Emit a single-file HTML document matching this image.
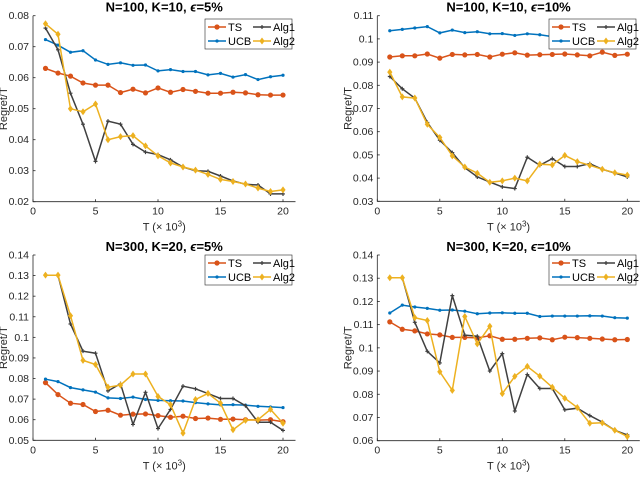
<!DOCTYPE html>
<html><head><meta charset="utf-8"><style>
body{margin:0;background:#fff;width:640px;height:472px;overflow:hidden}
svg{font-family:"Liberation Sans",sans-serif}
</style></head><body>
<svg id="fig" width="640" height="472" viewBox="0 0 640 472"></svg>
<script>
const xValues=[1,2,3,4,5,6,7,8,9,10,11,12,13,14,15,16,17,18,19,20];
const xTicks=[0,5,10,15,20];
const p1TS=[0.063,0.0615,0.0605,0.0583,0.0576,0.0576,0.0552,0.0563,0.0551,0.0567,0.0553,0.0562,0.0556,0.055,0.055,0.0553,0.0551,0.0545,0.0544,0.0544];
const p1UCB=[0.0723,0.0705,0.0682,0.0687,0.0657,0.0643,0.0648,0.064,0.0641,0.0622,0.0626,0.062,0.062,0.0609,0.0614,0.0602,0.061,0.0594,0.0603,0.0608];
const p1Alg1=[0.076,0.069,0.055,0.045,0.033,0.046,0.045,0.0385,0.036,0.0352,0.0335,0.0312,0.030,0.0298,0.0283,0.0267,0.0256,0.0254,0.0225,0.0225];
const p1Alg2=[0.0774,0.074,0.050,0.049,0.0515,0.040,0.041,0.0413,0.038,0.0348,0.0325,0.0312,0.0302,0.0288,0.0272,0.0265,0.0257,0.0244,0.0233,0.0238];
const p1YTicks=["0.02","0.03","0.04","0.05","0.06","0.07","0.08"];
const p2TS=[0.0922,0.0927,0.0927,0.0935,0.0917,0.0933,0.0931,0.0933,0.0922,0.0934,0.094,0.093,0.0932,0.0933,0.0935,0.0931,0.0927,0.0943,0.0929,0.0934];
const p2UCB=[0.1035,0.1041,0.1047,0.1053,0.1026,0.1038,0.1027,0.1031,0.1022,0.1023,0.1015,0.1022,0.1018,0.101,0.101,0.1008,0.1011,0.1004,0.1005,0.0998];
const p2Alg1=[0.0838,0.0785,0.0745,0.064,0.0563,0.051,0.0445,0.0405,0.0383,0.0362,0.0355,0.049,0.0455,0.0484,0.045,0.045,0.0462,0.0438,0.0422,0.0405];
const p2Alg2=[0.0857,0.075,0.0745,0.0632,0.0575,0.0496,0.0448,0.0421,0.0382,0.0388,0.040,0.0388,0.046,0.0457,0.0498,0.0471,0.0455,0.0438,0.0423,0.0413];
const p2YTicks=["0.03","0.04","0.05","0.06","0.07","0.08","0.09","0.1","0.11"];
const p3TS=[0.078,0.0722,0.068,0.0674,0.064,0.0646,0.0622,0.0627,0.0628,0.062,0.0612,0.0617,0.0606,0.0608,0.0602,0.0603,0.06,0.0598,0.06,0.059];
const p3UCB=[0.0797,0.0785,0.0756,0.0745,0.0734,0.0706,0.0703,0.071,0.0698,0.0694,0.0692,0.0691,0.0683,0.0677,0.0672,0.0673,0.0671,0.0665,0.0662,0.0659];
const p3Alg1=[0.1302,0.1302,0.1065,0.0933,0.0923,0.074,0.0775,0.0577,0.0733,0.0557,0.065,0.0763,0.075,0.0727,0.0703,0.0703,0.0668,0.0588,0.0588,0.0548];
const p3Alg2=[0.1302,0.1302,0.1105,0.0888,0.0868,0.0758,0.0768,0.0822,0.0822,0.0713,0.0673,0.0535,0.0698,0.0728,0.068,0.0551,0.0597,0.06,0.065,0.0583];
const p3YTicks=["0.05","0.06","0.07","0.08","0.09","0.1","0.11","0.12","0.13","0.14"];
const p4TS=[0.1112,0.108,0.1073,0.106,0.1056,0.1045,0.1045,0.1043,0.1052,0.1037,0.1037,0.1041,0.1043,0.1035,0.1046,0.1044,0.1041,0.1038,0.1035,0.1036];
const p4UCB=[0.115,0.1184,0.1176,0.117,0.1162,0.1163,0.1158,0.1147,0.115,0.1151,0.1149,0.1149,0.1135,0.1137,0.1137,0.1137,0.1138,0.1137,0.113,0.1128];
const p4Alg1=[0.1302,0.1302,0.111,0.0985,0.0935,0.1225,0.1055,0.105,0.090,0.0975,0.0728,0.0885,0.0825,0.0825,0.0733,0.074,0.0708,0.068,0.0645,0.0625];
const p4Alg2=[0.1302,0.1302,0.113,0.1118,0.0897,0.0817,0.1135,0.1017,0.1093,0.0803,0.0877,0.092,0.0878,0.083,0.0783,0.0743,0.0675,0.0677,0.0645,0.0618];
const p4YTicks=["0.06","0.07","0.08","0.09","0.1","0.11","0.12","0.13","0.14"];

const NS="http://www.w3.org/2000/svg";
const svg=document.getElementById('fig');
function mk(tag,attrs,parent){const e=document.createElementNS(NS,tag);for(const k in attrs)e.setAttribute(k,attrs[k]);(parent||svg).appendChild(e);return e;}
const colors={TS:"#D95319",UCB:"#0072BD",Alg1:"#404040",Alg2:"#EDB120"};
function marker(g,type,x,y,c){
  let m;
  if(type==="TS") m=mk('circle',{cx:x,cy:y,r:2.6,fill:c},g);
  else if(type==="UCB") m=mk('circle',{cx:x,cy:y,r:1.6,fill:c},g);
  else if(type==="Alg1") m=mk('path',{d:`M${x-2} ${y}H${x+2}M${x} ${y-2}V${y+2}`,stroke:c,'stroke-width':1.2},g);
  else m=mk('path',{d:`M${x} ${y-3.5}L${x+2.6} ${y}L${x} ${y+3.5}L${x-2.6} ${y}Z`,fill:c},g);
  
  
}
function panel(id,title,x0,yTop,yBot,yTicks,series,legX,legY){
  const g=mk('g',{});
  
  
  const ymin=parseFloat(yTicks[0]),ymax=parseFloat(yTicks[yTicks.length-1]);
  const sx=v=>x0+v*12.5;
  const sy=v=>yBot-(v-ymin)/(ymax-ymin)*(yBot-yTop);
  const xr=sx(21);
  const ax=mk('path',{d:`M${x0} ${yTop}V${yBot}H${xr}`,fill:'none',stroke:'#262626','stroke-width':0.8},g);
  
  
  yTicks.forEach(t=>{const y=sy(parseFloat(t));
    mk('line',{x1:x0,x2:x0+2.5,y1:y,y2:y,stroke:'#262626','stroke-width':0.8},g);
    const tx=mk('text',{x:x0-4,y:y+3.5,'text-anchor':'end','font-size':10.5,fill:'#262626'},g);tx.textContent=t;
    
    
  });
  xTicks.forEach(t=>{const x=sx(t);
    mk('line',{x1:x,x2:x,y1:yBot,y2:yBot-2.5,stroke:'#262626','stroke-width':0.8},g);
    const tx=mk('text',{x:x,y:yBot+13,'text-anchor':'middle','font-size':10.5,fill:'#262626'},g);tx.textContent=t;
    
    
  });
  const tt=mk('text',{x:(x0+xr)/2,y:yTop-4,'text-anchor':'middle','font-size':13,'font-weight':'bold',fill:'#000'},g);
  tt.innerHTML=title;
  
  
  const xl=mk('text',{x:(x0+xr)/2,y:yBot+29,'text-anchor':'middle','font-size':11,fill:'#262626'},g);
  xl.innerHTML='T (× 10<tspan dy="-4" font-size="8">3</tspan><tspan dy="4">)</tspan>';
  
  
  const yl=mk('text',{x:0,y:0,'text-anchor':'middle','font-size':11,fill:'#262626',transform:`translate(${x0-26},${(yTop+yBot)/2}) rotate(-90)`},g);
  yl.textContent='Regret/T';
  
  
  ["TS","UCB","Alg1","Alg2"].forEach(k=>{
    const vals=series[k];
    const d=vals.map((v,i)=>(i?'L':'M')+sx(xValues[i]).toFixed(1)+' '+sy(v).toFixed(1)).join('');
    const sg=mk('g',{},g);
    
    
    mk('path',{d:d,fill:'none',stroke:colors[k],'stroke-width':1.5},sg);
    vals.forEach((v,i)=>marker(sg,k,sx(xValues[i]),sy(v),colors[k]));
  });
  const lg=mk('g',{},g);
  
  
  mk('rect',{x:legX,y:legY,width:87,height:30,fill:'#fff',stroke:'#262626','stroke-width':0.6},lg);
  [["TS",0,0],["Alg1",45,0],["UCB",0,1],["Alg2",45,1]].forEach(([k,dx,row])=>{
    const lx=legX+3+dx,ly=legY+8+row*14;
    const e=mk('g',{},lg);
    
    
    mk('line',{x1:lx,x2:lx+18,y1:ly,y2:ly,stroke:colors[k],'stroke-width':1.5},e);
    marker(e,k,lx+9,ly,colors[k]);
    const t=mk('text',{x:lx+20,y:ly+4,'font-size':11,fill:'#000'},e);t.textContent=k;
  });
}
panel('panel-n100-e5','N=100, K=10, <tspan font-style="italic">ϵ</tspan>=5%',33,15.7,201.7,p1YTicks,{TS:p1TS,UCB:p1UCB,Alg1:p1Alg1,Alg2:p1Alg2},205,19);
panel('panel-n100-e10','N=100, K=10, <tspan font-style="italic">ϵ</tspan>=10%',377.3,15.7,201.3,p2YTicks,{TS:p2TS,UCB:p2UCB,Alg1:p2Alg1,Alg2:p2Alg2},549,19);
panel('panel-n300-e5','N=300, K=20, <tspan font-style="italic">ϵ</tspan>=5%',33,255,440.3,p3YTicks,{TS:p3TS,UCB:p3UCB,Alg1:p3Alg1,Alg2:p3Alg2},205,255);
panel('panel-n300-e10','N=300, K=20, <tspan font-style="italic">ϵ</tspan>=10%',377.3,255,440.7,p4YTicks,{TS:p4TS,UCB:p4UCB,Alg1:p4Alg1,Alg2:p4Alg2},549,255);
</script>
</body></html>
